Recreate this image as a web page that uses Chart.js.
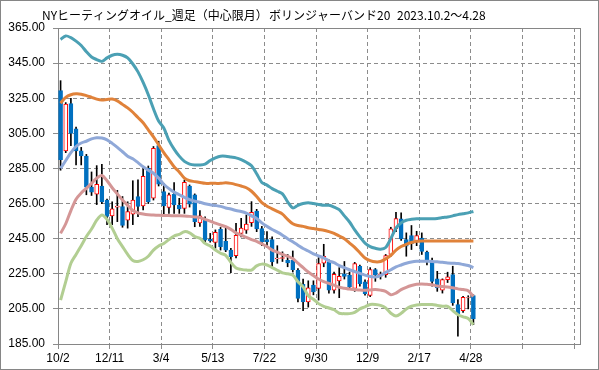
<!DOCTYPE html>
<html><head><meta charset="utf-8">
<script src="https://cdn.jsdelivr.net/npm/chart.js@4"></script>
<style>html,body{margin:0;padding:0;background:#fff}canvas{display:block}</style>
</head><body>
<canvas id="c" width="599" height="370"></canvas>
<script>
const tickLabels = ["10/2","12/11","3/4","5/13","7/22","9/30","12/9","2/17","4/28"];
const titleParts = ["NYヒーティングオイル_週足（中心限月）","ボリンジャーバンド20","2023.10.2～4.28"];

const openP  = [329.4,295,322,307.5,295,292,274.4,270.3,275,267,258,263,263.3,255.5,259,269,263.7,285,268,298,
  271.8,262.8,270.2,264.2,262.3,275,269.9,254,256,244.6,242.9,250.3,243.5,238.5,235.3,248,249.9,254.1,260.7,250.7,
  244.5,244.5,233.5,233.8,232.7,232.7,227,219,209,218.5,216.6,231.1,231.8,215.6,220.9,225,224.2,216.6,229.3,220.4,
  212.7,227.4,223.6,224.5,236,250.7,256.3,244.5,246.8,243.5,245.4,237.3,232.1,222.1,215.6,221.7,224.5,207.4,204,211.2,212.6];
const highP  = [335,322.5,325,308.5,297,293,283,286.6,287.3,267.5,266,272.5,269,266,278,278.5,286,286.4,297.5,300.5,
  276.5,271,276.9,268,278.4,275.6,270.5,261,257.5,248,250,251.4,250.9,239.5,253.7,256.6,258.5,266.1,261.7,252,
  249,246,241,237.5,236,238,228,222,221,221,234.2,241.8,233,226,228.5,232,226,231.5,230,221.5,
  228.5,228,226,236,251.5,260,259.7,248.3,252.5,249.2,248.3,238,234,226.4,222.1,225.9,229.3,210.3,212.2,212.5,213];
const lowP   = [284,294,298,287,287,270,269.6,264.4,265,253,253,254.7,251.5,251,253,257.6,261.4,265,267,275,
  258.5,259.4,259.4,259.4,259.4,263,251.8,252,243,243,239.5,238.5,237.6,225.6,234,246,248,252,249,241,
  240,229,231,232,229,226,209,204,206,213,210,229,214,214,211.4,222,216,215,218,212.8,
  212,220.7,222,223,235,249,244,235,238.8,241,236,230,218,215,214,220,207,189.4,203,205,196];
const closeP = [290,321.6,305,295,292.2,274.3,271.5,276,266,257.7,262,263.5,252.5,260.4,267,263.3,280.5,266,296.5,276,
  263.6,269.9,264.2,261.9,277.1,264.7,254.7,258,244.2,243.7,248.6,240.4,238.5,234.7,246.9,251,253.3,260,250.5,243.2,
  243.2,231.8,234,234.2,231.2,227.4,211,209,217,214.7,230.8,235,215.6,224.7,223.6,223.5,217.5,230.8,219.4,213.7,
  227.4,224.5,224.9,235.4,250.6,256.4,244.9,240.7,242.2,246.8,237.8,232.1,220.7,216.9,221.7,223.2,208.4,202.3,211.6,211.5,199.3];

const upper2 = [358.5,360.5,359.5,357.5,355,351.5,348.5,347,346,348,349.5,350,349.5,348,344.5,340,334,327,319,312,
  308,301,296,292,289,287.5,287,287,287.5,289.5,291,292,292,291.5,291,290,288.5,286.5,282,277,
  275.5,273.5,272,270.5,266,262.5,264,265,265.5,265,264.5,264,264,263,261.5,258,254.5,250,246,242.5,
  240.5,239.5,239,240,245,251,254,255.5,256,256.3,256.3,256.3,256.3,256.5,257,257.4,258,258.7,259.2,259.7,260.5];
const upper1 = [322.2,325.5,327,327.5,327.3,326.5,325.5,324.5,324,324.3,324.5,323.5,321.5,319.5,317,314,311,307,303,298.5,
  294,290,286,283,279.5,278,277.5,277,276.5,276.5,276.5,276.5,276.8,276.5,275.8,275,274,272,269,265.5,
  263.5,262,260.5,259,256,253.5,252.5,252,251.2,250.8,250.2,249.8,249,248,246.5,245,242.5,240,237,234,
  232.5,231.8,232,233.5,235.5,238.5,240.5,241.8,242.8,243.5,243.7,243.7,243.7,243.7,243.7,243.7,243.7,243.7,243.7,243.7,243.7];
const middle = [285,289.5,294,297.5,299.5,300.5,301.8,302.5,302.3,301.3,299.3,297,294.5,292,290.5,288.3,286,284,282.3,279.5,
  276,273.5,271.5,270,268.5,267.2,266.3,265.7,264.9,264.3,263.9,263.4,262.5,261.9,261,260.5,259.6,258,256.5,254,
  252,250.2,248.7,247,245,243.2,241.3,239.4,238,236.3,235.2,234,232.4,231.3,229.7,228.5,227.3,226.3,225.2,224.2,
  223.4,223.2,224,225.8,227.3,228.9,230,231,231.7,232.1,232.2,232.1,232,231.8,231.5,231.2,231,230.8,230.3,229.7,228.5];
const lower1 = [248,253.5,261,267.5,271,273.7,276.5,279.5,281,278,274,270.5,267,264,261,259.7,259,258.6,258.5,258.3,
  258.2,258.2,258,258,257.9,257.7,257.4,257,256,255,253.8,252.8,251.8,250.3,248.3,247,245.7,244.5,243.5,242,
  240.5,238.5,237.3,236,235,233.7,231,228.5,226,224,222,220.5,219.5,218.5,217.3,216.8,216.3,216,215.7,215.6,
  215.8,216,215.7,215,213,214,216,217.3,218.3,219,219.2,219,218.8,218,217.7,217.5,217,216.4,216,215.3,212];
const lower2 = [210,220.5,231,236,241,246.2,250.5,255.5,258.5,256,251,245,240.5,236,232.5,232,233,235,238.5,240.8,
  242.3,244.5,246.5,247.5,249,248.3,246.2,245.2,242.3,240.8,238.5,236.7,235.5,231.5,228.3,227.5,227.1,227.1,229.5,230.5,
  230,228.5,227,225.5,225,224.2,220.5,217.5,212.5,210.5,208,206.5,205.5,204.5,202.5,202.3,202.3,203,205,206.2,
  207.5,207.5,207,205.6,202.5,201,202.5,205,206.5,207.2,207.5,207.5,207.5,207,206.5,206.5,204,201.7,200.5,199.5,196];

const BLUE = '#0070C0', RED = '#FF0000';
const isUp = i => closeP[i] >= openP[i];
const bodies = openP.map((o, i) => ({x: i, y: [o, closeP[i]]}));
const wicks = lowP.map((l, i) => ({x: i, y: [l, highP[i]]}));
const band = arr => arr.map((v, i) => ({x: i, y: v}));

function lineDs(data, color) {
  return {type: 'line', data: band(data), borderColor: color, borderWidth: 3, pointRadius: 0,
    tension: 0.3, fill: false, order: 0};
}

const framePlugin = {
  id: 'frame',
  beforeDatasetsDraw(chart) {
    const {ctx, chartArea: a} = chart;
    ctx.save();
    ctx.strokeStyle = '#868686'; ctx.lineWidth = 1; ctx.setLineDash([]);
    ctx.strokeRect(Math.round(a.left) + 0.5, Math.round(a.top) + 0.5, Math.round(a.right - a.left), Math.round(a.bottom - a.top));
    ctx.restore();
  },
  afterDraw(chart) {
    const ctx = chart.ctx;
    ctx.save();
    ctx.strokeStyle = '#868686'; ctx.lineWidth = 1;
    ctx.strokeRect(0.5, 0.5, 598, 369);
    ctx.fillStyle = '#000';
    ctx.font = '12px "Noto Sans CJK JP"';
    ctx.textBaseline = 'middle';
    const xs = [42, 269, 397];
    titleParts.forEach((t, k) => ctx.fillText(t, xs[k], 15));
    ctx.restore();
  }
};

new Chart(document.getElementById('c'), {
  type: 'bar',
  data: {
    datasets: [
      lineDs(upper2, '#4BA0B4'),
      lineDs(upper1, '#E0823A'),
      lineDs(middle, '#8FA8D8'),
      lineDs(lower1, '#D49696'),
      lineDs(lower2, '#B2CE92'),
      {type: 'bar', data: bodies, barThickness: 4, grouped: false, order: 1,
        backgroundColor: ctx => isUp(ctx.dataIndex) ? '#FFFFFF' : BLUE,
        borderColor: ctx => isUp(ctx.dataIndex) ? RED : BLUE,
        borderWidth: 1, borderSkipped: false},
      {type: 'bar', data: wicks, barThickness: 1, grouped: false, order: 2,
        backgroundColor: '#000', borderWidth: 0}
    ]
  },
  options: {
    responsive: false, animation: false, devicePixelRatio: 1,
    layout: {padding: {left: 0, right: 19, top: 28, bottom: 0}},
    plugins: {legend: {display: false}, tooltip: {enabled: false}, title: {display: false}},
    scales: {
      x: {
        type: 'linear', min: -0.5, max: 100.66, offset: false,
        afterFit: ax => { ax.height = 26; },
        afterBuildTicks: ax => { const t = []; for (let k = 0; k <= 10; k++) t.push({value: -0.5 + 10 * k}); ax.ticks = t; },
        grid: {offset: false, color: '#8C8C8C', lineWidth: 1, tickLength: 5, tickColor: '#8C8C8C', tickBorderDash: []},
        border: {display: true, color: '#868686', dash: [4, 3]},
        ticks: {autoSkip: false, maxRotation: 0, padding: 2, color: '#000',
          font: {family: 'Liberation Sans', size: 12},
          callback: v => { const k = Math.round((v + 0.5) / 10); return tickLabels[k] !== undefined ? tickLabels[k] : ''; }}
      },
      y: {
        type: 'linear', min: 185, max: 365,
        afterFit: ax => { ax.width = 58; },
        grid: {color: '#8C8C8C', lineWidth: 1, tickLength: 5, tickColor: '#8C8C8C', tickBorderDash: []},
        border: {display: true, color: '#868686', dash: [4, 3]},
        ticks: {stepSize: 20, padding: 8, color: '#000', font: {family: 'Liberation Sans', size: 12},
          callback: v => v.toFixed(2)}
      }
    }
  },
  plugins: [framePlugin]
});
</script>
</body></html>
